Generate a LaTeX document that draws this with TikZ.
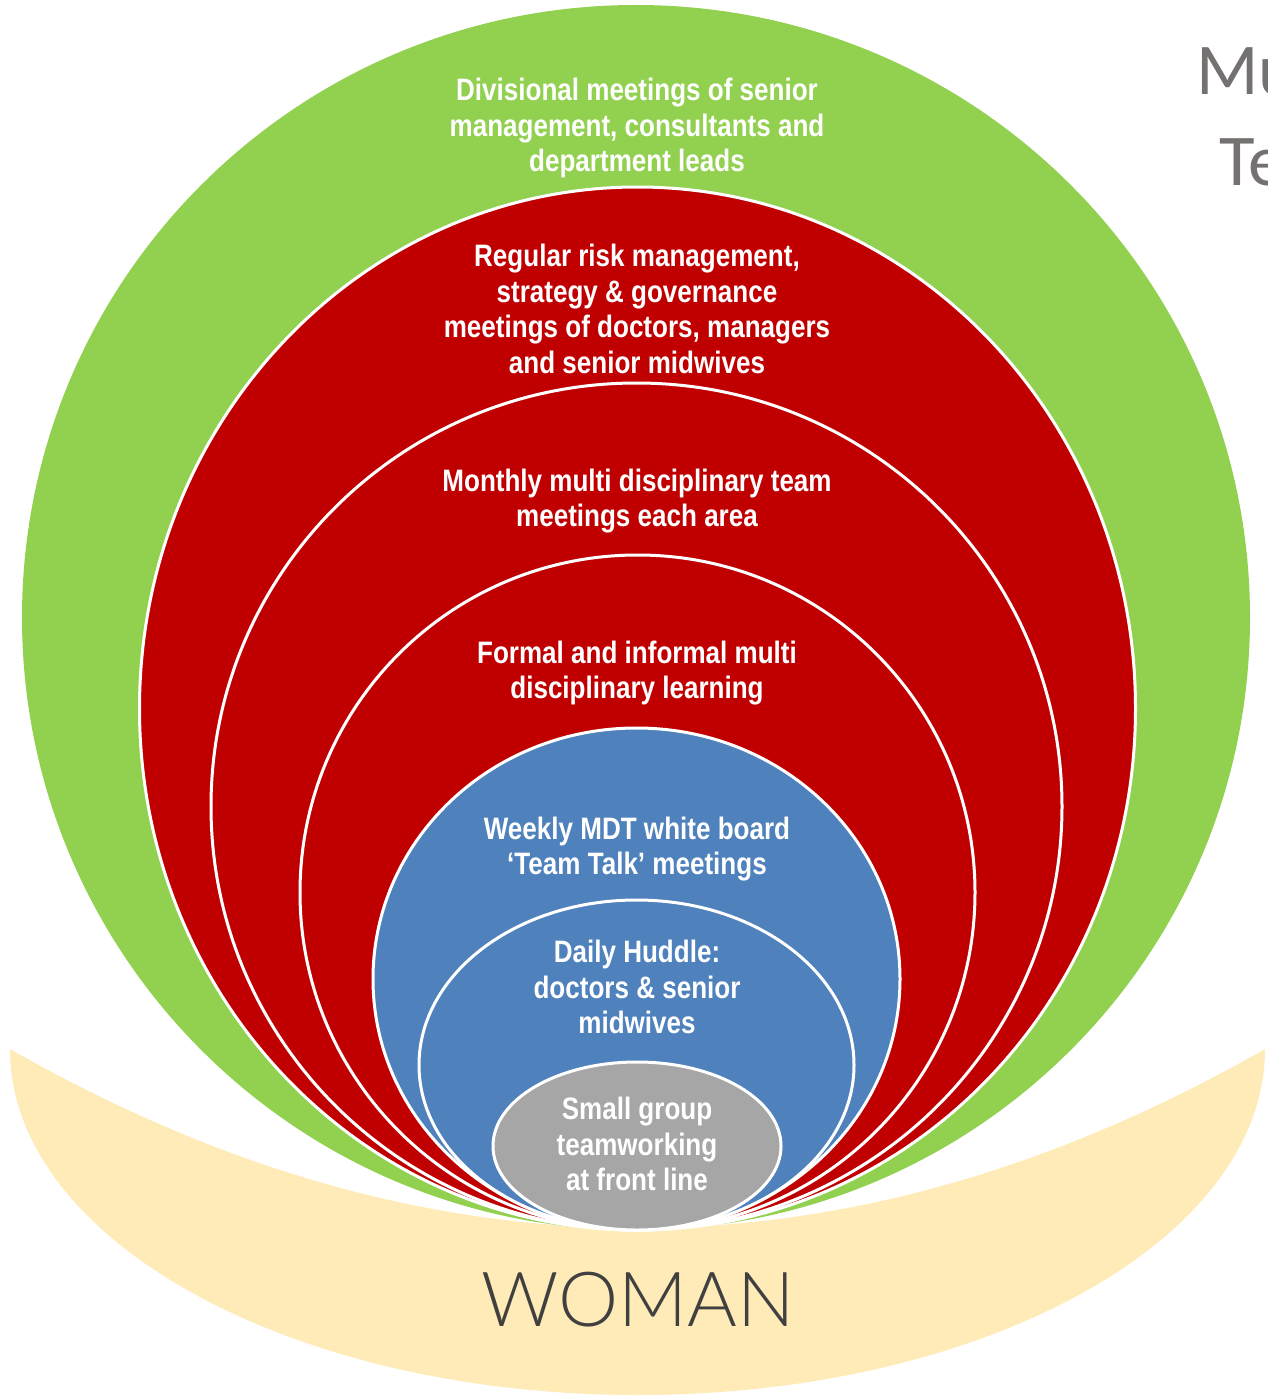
\documentclass[tikz,border=0pt]{standalone}
\usepackage{fontspec}
\setmainfont{Liberation Sans}
\newfontfamily\narrowfont[FakeStretch=0.84]{Liberation Sans}
\newfontfamily\titlefont{Carlito}
\newfontfamily\womanfont{Lato Light}
\usetikzlibrary{shapes.geometric}

\definecolor{leafgreen}{HTML}{92D050}
\definecolor{deepred}{HTML}{C00000}
\definecolor{steelblue}{HTML}{4F81BD}
\definecolor{midgray}{HTML}{A6A6A6}
\definecolor{cream}{HTML}{FFEBB7}
\definecolor{womangray}{HTML}{404040}
\definecolor{titlegray}{HTML}{767171}

\begin{document}
\begin{tikzpicture}[x=1pt,y=-1pt]
\tikzstyle{ring} = [ellipse, inner sep=0pt, draw=white, line width=3pt]
\tikzstyle{caption} = [text=white, align=center,
font=\narrowfont\bfseries\fontsize{31}{35.5}\selectfont]
\tikzstyle{heading} = [text=titlegray, anchor=base west, inner sep=0pt,
font=\titlefont\fontsize{73}{80}\selectfont]

\useasboundingbox (0,0) rectangle (1268,1397);

% the band underneath
\fill[cream] (10,1049) .. controls (428.3,1287.7) and (846.7,1287.7) .. (1265,1049)
 arc[start angle=0, end angle=180, x radius=627.5, y radius=346];
\node[text=womangray, font=\womanfont\fontsize{76}{80}\selectfont] (woman) at (638,1300) {WOMAN};

% nested rings, outermost first
\node[ring, draw=none, fill=leafgreen, minimum width=1228, minimum height=1225] (division) at (636,617.5) {};
\node[ring, fill=deepred, minimum width=996, minimum height=1043] (risk) at (637.5,708.5) {};
\node[ring, fill=deepred, minimum width=851, minimum height=847] (monthly) at (636.5,806.5) {};
\node[ring, fill=deepred, minimum width=675, minimum height=675] (learning) at (637.5,892.5) {};
\node[ring, fill=steelblue, minimum width=527, minimum height=502] (teamtalk) at (636.5,979) {};
\node[ring, fill=steelblue, minimum width=435, minimum height=330] (huddle) at (636.5,1065) {};
\node[ring, fill=midgray, minimum width=288, minimum height=168] (frontline) at (637,1146) {};

% labels
\node[caption] (divisiontext) at (637,128) {Divisional meetings of senior\\management, consultants and\\department leads};
\node[caption] (risktext) at (637,309) {Regular risk management,\\strategy \& governance\\meetings of doctors, managers\\and senior midwives};
\node[caption] (monthlytext) at (637,501) {Monthly multi disciplinary team\\meetings each area};
\node[caption] (learningtext) at (637,673) {Formal and informal multi\\disciplinary learning};
\node[caption] (teamtalktext) at (637,849) {Weekly MDT white board\\‘Team Talk’ meetings};
\node[caption] (huddletext) at (637,987) {Daily Huddle:\\doctors \& senior\\midwives};
\node[caption] (frontlinetext) at (637,1144) {Small group\\teamworking\\at front line};

% title, running off the edge
\node[heading] (titleone) at (1196,95) {Mu};
\node[heading] (titletwo) at (1219,185) {Te};
\end{tikzpicture}
\end{document}
